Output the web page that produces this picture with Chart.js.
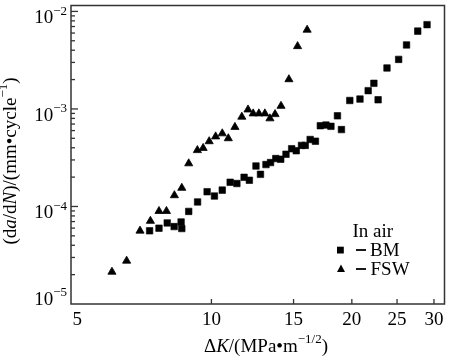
<!DOCTYPE html>
<html>
<head>
<meta charset="utf-8">
<script src="https://cdn.jsdelivr.net/npm/chart.js@4/dist/chart.umd.min.js"></script>
<style>
html,body{margin:0;padding:0;background:#fff;}
canvas{display:block;}
</style>
</head>
<body>
<canvas id="c" width="450" height="357"></canvas>
<script>
// ΔK values (MPa·m^-1/2) and da/dN values (mm/cycle)
const bmDeltaK = [7.37,7.72,8.04,8.32,8.61,8.64,8.94,9.34,9.79,10.15,10.55,10.97,11.34,11.75,12.06,12.46,12.74,13.09,13.39,13.74,14.08,14.45,14.86,15.2,15.6,15.89,16.28,16.71,17.12,17.6,18.04,18.63,19.0,19.8,20.82,21.68,22.3,22.77,23.79,25.2,26.2,27.69,28.99];
const bmRate = [5.63e-5,5.99e-5,6.78e-5,6.22e-5,6.94e-5,5.94e-5,8.90e-5,1.113e-4,1.417e-4,1.279e-4,1.471e-4,1.772e-4,1.719e-4,1.991e-4,1.857e-4,2.60e-4,2.135e-4,2.69e-4,2.82e-4,3.10e-4,3.05e-4,3.43e-4,3.91e-4,3.73e-4,4.23e-4,4.23e-4,4.86e-4,4.67e-4,6.73e-4,6.83e-4,6.63e-4,8.50e-4,6.14e-4,1.221e-3,1.262e-3,1.541e-3,1.831e-3,1.242e-3,2.631e-3,3.222e-3,4.535e-3,6.28e-3,7.32e-3];
const fswDeltaK = [6.12,6.58,7.03,7.40,7.72,8.01,8.33,8.64,8.94,9.33,9.60,9.89,10.21,10.55,10.87,11.23,11.62,11.98,12.29,12.64,13.02,13.35,13.69,14.10,14.66,15.30,16.04];
const fswRate = [2.135e-5,2.77e-5,5.63e-5,7.10e-5,8.96e-5,8.96e-5,1.30e-4,1.548e-4,2.76e-4,3.77e-4,3.97e-4,4.65e-4,5.21e-4,5.60e-4,4.99e-4,6.52e-4,8.30e-4,9.84e-4,8.97e-4,8.97e-4,8.97e-4,7.98e-4,8.82e-4,1.072e-3,2.01e-3,4.39e-3,6.47e-3];
const xTickLabels = [5,10,15,20,25,30];
const yTickExponents = [-5,-4,-3,-2];
const seriesNames = ['BM','FSW'];
const legendTitle = 'In air';

const FONT = '"Liberation Serif","Times New Roman",serif';
const INK = '#000';

function toPts(xs, ys){ return xs.map((x,i)=>({x:x,y:ys[i]})); }

function drawRich(ctx, parts, x, y, align){
  let total = 0;
  const widths = parts.map(p=>{
    ctx.font = (p.italic?'italic ':'') + p.size + 'px ' + FONT;
    const w = ctx.measureText(p.t).width; total += w; return w;
  });
  let cx = align==='center' ? x - total/2 : (align==='right' ? x - total : x);
  parts.forEach((p,i)=>{
    ctx.font = (p.italic?'italic ':'') + p.size + 'px ' + FONT;
    ctx.textAlign = 'left';
    ctx.textBaseline = 'middle';
    ctx.fillText(p.t, cx, y - (p.sup||0));
    cx += widths[i];
  });
}

const decor = {
  id:'decor',
  afterDraw(chart){
    const ctx = chart.ctx;
    const a = chart.chartArea;
    const xs = chart.scales.x, ys = chart.scales.y;
    ctx.save();
    // frame
    ctx.strokeStyle = '#333';
    ctx.lineWidth = 1.5;
    ctx.strokeRect(a.left, a.top, a.right - a.left, a.bottom - a.top);
    ctx.lineWidth = 1.3;
    // x ticks (inward)
    xTickLabels.forEach(v=>{
      const px = xs.getPixelForValue(v);
      if (px > a.left + 2 && px < a.right - 2){
        ctx.beginPath(); ctx.moveTo(px, a.bottom); ctx.lineTo(px, a.bottom - 5); ctx.stroke();
      }
    });
    // y ticks (inward), major and minor
    yTickExponents.forEach(e=>{
      for (let m=1; m<=9; m++){
        const v = m*Math.pow(10,e);
        const py = ys.getPixelForValue(v);
        if (py < a.top + 1 || py > a.bottom - 1) continue;
        const len = m===1 ? 7 : 4;
        ctx.beginPath(); ctx.moveTo(a.left, py); ctx.lineTo(a.left + len, py); ctx.stroke();
      }
    });
    ctx.fillStyle = INK;
    // x tick labels
    ctx.font = '19px ' + FONT;
    ctx.textBaseline = 'middle';
    xTickLabels.forEach(v=>{
      const px = xs.getPixelForValue(v);
      if (v === xTickLabels[0]) { ctx.textAlign = 'left'; ctx.fillText(String(v), px + 1.5, a.bottom + 16); }
      else { ctx.textAlign = 'center'; ctx.fillText(String(v), px, a.bottom + 16); }
    });
    // y tick labels: 10^e
    yTickExponents.forEach(e=>{
      const py = ys.getPixelForValue(Math.pow(10,e));
      const yy = (e === yTickExponents[0]) ? py - 4 : py + 7;
      drawRich(ctx, [
        {t:'10', size:19},
        {t:'\u2212' + String(-e), size:13, sup:7}
      ], 67, yy, 'right');
    });
    // x title
    drawRich(ctx, [
      {t:'\u0394', size:19},
      {t:'K', size:19, italic:true},
      {t:'/(MPa\u2022m', size:19},
      {t:'\u22121/2', size:13, sup:7},
      {t:')', size:19}
    ], 266, a.bottom + 43, 'center');
    // y title (rotated)
    ctx.save();
    ctx.translate(11, 161);
    ctx.rotate(-Math.PI/2);
    drawRich(ctx, [
      {t:'(d', size:19},
      {t:'a', size:19, italic:true},
      {t:'/d', size:19},
      {t:'N', size:19, italic:true},
      {t:')/(mm\u2022cycle', size:19},
      {t:'\u22121', size:13, sup:7},
      {t:')', size:19}
    ], 0, 0, 'center');
    ctx.restore();
    // legend
    ctx.font = '19px ' + FONT;
    ctx.textAlign = 'left';
    ctx.textBaseline = 'middle';
    ctx.fillText(legendTitle, 352.5, 232);
    ctx.fillRect(337, 246.7, 6.8, 6.8);
    ctx.beginPath();
    ctx.moveTo(341, 264.5); ctx.lineTo(345, 272); ctx.lineTo(337, 272); ctx.closePath(); ctx.fill();
    ctx.lineWidth = 1.8;
    ctx.strokeStyle = INK;
    ctx.beginPath(); ctx.moveTo(356, 250); ctx.lineTo(366, 250); ctx.stroke();
    ctx.beginPath(); ctx.moveTo(356, 269); ctx.lineTo(366, 269); ctx.stroke();
    ctx.fillText(seriesNames[0], 370, 251);
    ctx.fillText(seriesNames[1], 370.5, 270);
    ctx.restore();
  }
};

new Chart(document.getElementById('c'), {
  type:'scatter',
  data:{
    datasets:[
      {label:seriesNames[0], data:toPts(bmDeltaK,bmRate), pointStyle:'rect', pointRadius:4.6, backgroundColor:INK, borderColor:INK, borderWidth:0.6},
      {label:seriesNames[1], data:toPts(fswDeltaK,fswRate), pointStyle:'triangle', pointRadius:4.7, backgroundColor:INK, borderColor:INK, borderWidth:0.8}
    ]
  },
  options:{
    responsive:false,
    animation:false,
    layout:{padding:{top:1,right:5,left:0,bottom:0}},
    plugins:{legend:{display:false}, tooltip:{enabled:false}},
    scales:{
      x:{type:'logarithmic', min:5, max:31.6,
         ticks:{display:false}, grid:{display:false}, border:{display:false},
         afterFit(s){ s.height = 53; }},
      y:{type:'logarithmic', min:1e-5, max:0.0115,
         ticks:{display:false}, grid:{display:false}, border:{display:false},
         afterFit(s){ s.width = 71; }}
    }
  },
  plugins:[decor]
});
</script>
</body>
</html>
